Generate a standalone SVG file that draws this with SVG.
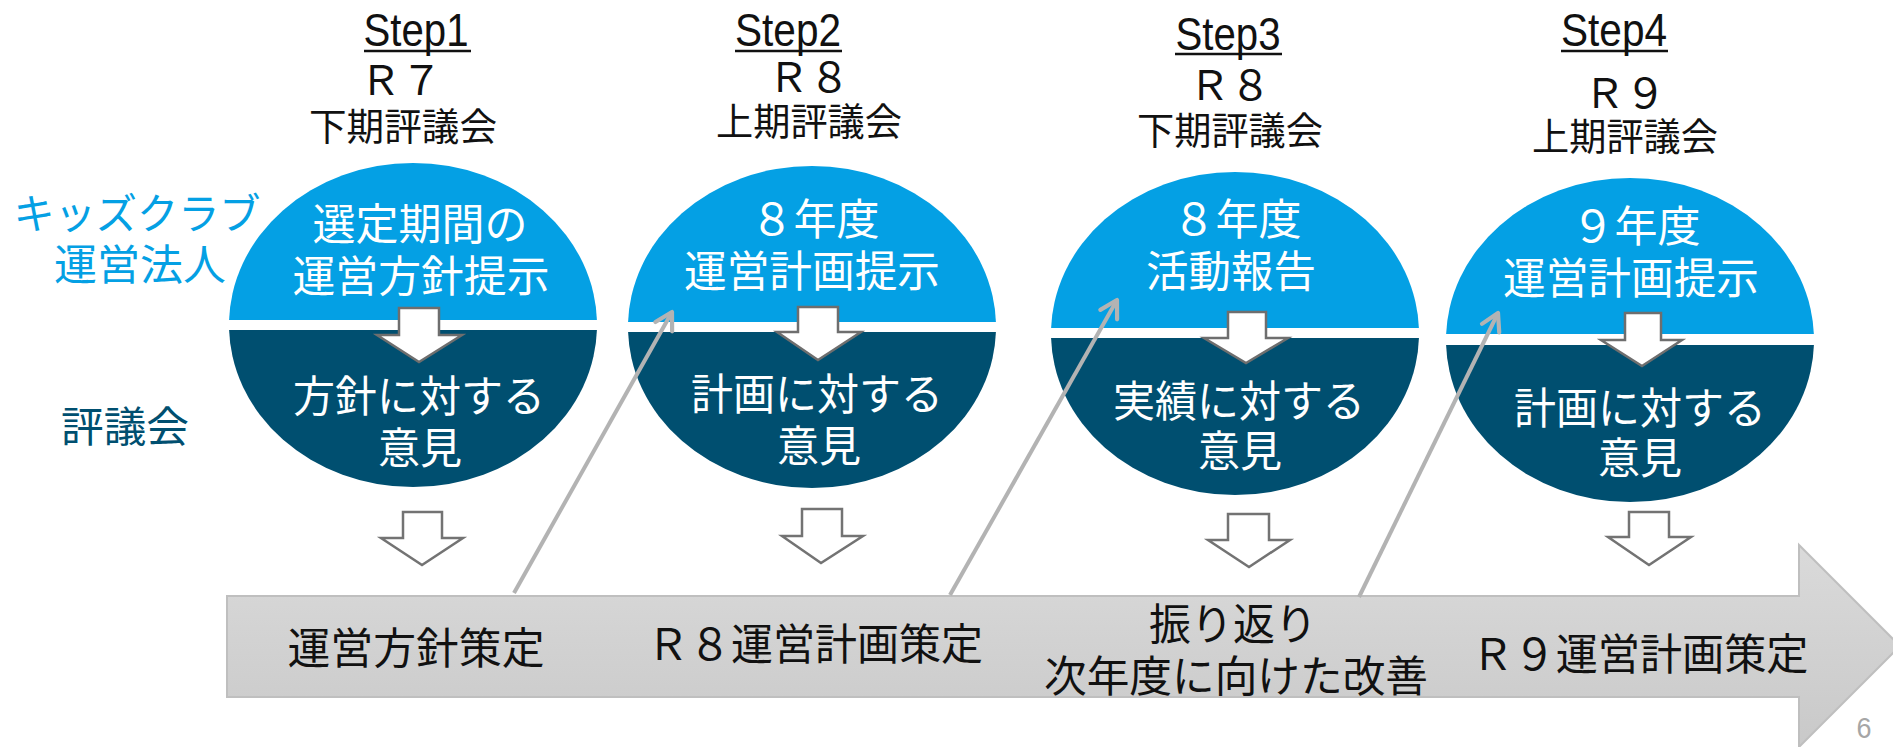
<svg xmlns="http://www.w3.org/2000/svg" width="1893" height="747" viewBox="0 0 1893 747">
<style>
.jp{font-family:'Noto Sans CJK JP','Noto Sans CJK SC',sans-serif;}
.hd{font-size:38px;fill:#111;text-anchor:middle;}
.rr{font-size:41px;fill:#111;text-anchor:middle;}
.step{font-family:'Liberation Sans',Arial,sans-serif;font-size:46px;fill:#111;text-anchor:middle;}
.ul{stroke:#111;stroke-width:2.5;}
.wt{font-size:43px;fill:#fff;text-anchor:middle;}
.bt{font-size:43px;fill:#111;text-anchor:middle;}
.lb{fill:#04A0E4;}
.dk{fill:#004F70;}
.ia{fill:#fff;stroke:#6e6e6e;stroke-width:2.5;stroke-linejoin:miter;}
.oa{fill:#fff;stroke:#737373;stroke-width:2.5;}
.con{stroke:#b3b3b3;stroke-width:4;fill:none;marker-end:url(#chev);}
</style>
<defs>
<marker id="chev" viewBox="0 0 20 20" refX="17" refY="10" markerWidth="24" markerHeight="24" markerUnits="userSpaceOnUse" orient="auto">
<path d="M3,2 L17,10 L3,18" fill="none" stroke="#b3b3b3" stroke-width="3.5" stroke-linecap="round" stroke-linejoin="round"/>
</marker>
<linearGradient id="barg" x1="0" y1="0" x2="0" y2="1">
<stop offset="0" stop-color="#dadada"/>
<stop offset="1" stop-color="#c9c9c9"/>
</linearGradient>
<clipPath id="t1"><rect x="0" y="0" width="1893" height="320"/></clipPath>
<clipPath id="b1"><rect x="0" y="330" width="1893" height="417"/></clipPath>
<clipPath id="t2"><rect x="0" y="0" width="1893" height="322"/></clipPath>
<clipPath id="b2"><rect x="0" y="332" width="1893" height="415"/></clipPath>
<clipPath id="t3"><rect x="0" y="0" width="1893" height="328"/></clipPath>
<clipPath id="b3"><rect x="0" y="338" width="1893" height="409"/></clipPath>
<clipPath id="t4"><rect x="0" y="0" width="1893" height="334"/></clipPath>
<clipPath id="b4"><rect x="0" y="345" width="1893" height="402"/></clipPath>
</defs>
<rect width="1893" height="747" fill="#fff"/>

<g id="label-hojin">
<text class="jp" x="137" y="229" font-size="42" fill="#04A0E4" text-anchor="middle" textLength="247" lengthAdjust="spacingAndGlyphs">キッズクラブ</text>
<text class="jp" x="140" y="280" font-size="42" fill="#04A0E4" text-anchor="middle" textLength="172" lengthAdjust="spacingAndGlyphs">運営法人</text>
</g>
<g id="label-hyogikai">
<text class="jp" x="125" y="442" font-size="42" fill="#004F70" text-anchor="middle" textLength="128" lengthAdjust="spacingAndGlyphs">評議会</text>
</g>

<g id="step1">
<text class="step" x="416" y="46" textLength="105" lengthAdjust="spacingAndGlyphs">Step1</text>
<line class="ul" x1="364" y1="51" x2="471" y2="51"/>
<text class="jp rr" x="401" y="95">Ｒ７</text>
<text class="jp hd" x="403" y="140" textLength="188" lengthAdjust="spacingAndGlyphs">下期評議会</text>
</g>
<g id="step2">
<text class="step" x="788" y="46" textLength="106" lengthAdjust="spacingAndGlyphs">Step2</text>
<line class="ul" x1="735" y1="51" x2="842" y2="51"/>
<text class="jp rr" x="809" y="92">Ｒ８</text>
<text class="jp hd" x="809" y="135" textLength="186" lengthAdjust="spacingAndGlyphs">上期評議会</text>
</g>
<g id="step3">
<text class="step" x="1228" y="50" textLength="105" lengthAdjust="spacingAndGlyphs">Step3</text>
<line class="ul" x1="1175" y1="54" x2="1282" y2="54"/>
<text class="jp rr" x="1230" y="100">Ｒ８</text>
<text class="jp hd" x="1230" y="144" textLength="186" lengthAdjust="spacingAndGlyphs">下期評議会</text>
</g>
<g id="step4">
<text class="step" x="1614" y="46" textLength="106" lengthAdjust="spacingAndGlyphs">Step4</text>
<line class="ul" x1="1561" y1="51" x2="1668" y2="51"/>
<text class="jp rr" x="1625" y="108">Ｒ９</text>
<text class="jp hd" x="1625" y="150" textLength="186" lengthAdjust="spacingAndGlyphs">上期評議会</text>
</g>

<g id="circle1">
<ellipse class="lb" cx="413" cy="325" rx="184" ry="162" clip-path="url(#t1)"/>
<ellipse class="dk" cx="413" cy="325" rx="184" ry="162" clip-path="url(#b1)"/>
<text class="jp wt" x="420" y="240" textLength="215" lengthAdjust="spacingAndGlyphs">選定期間の</text>
<text class="jp wt" x="421" y="292" textLength="257" lengthAdjust="spacingAndGlyphs">運営方針提示</text>
<polygon class="ia" points="399,308 439,308 439,335 462,335 419,362 377,335 399,335"/>
<text class="jp wt" x="419" y="412" textLength="252" lengthAdjust="spacingAndGlyphs">方針に対する</text>
<text class="jp wt" x="420" y="464" textLength="84" lengthAdjust="spacingAndGlyphs">意見</text>
</g>
<g id="circle2">
<ellipse class="lb" cx="812" cy="327" rx="184" ry="161" clip-path="url(#t2)"/>
<ellipse class="dk" cx="812" cy="327" rx="184" ry="161" clip-path="url(#b2)"/>
<text class="jp wt" x="815" y="235">８年度</text>
<text class="jp wt" x="812" y="287" textLength="256" lengthAdjust="spacingAndGlyphs">運営計画提示</text>
<polygon class="ia" points="798,307 838,307 838,332 861,332 818,360 777,332 798,332"/>
<text class="jp wt" x="817" y="410" textLength="252" lengthAdjust="spacingAndGlyphs">計画に対する</text>
<text class="jp wt" x="819" y="462" textLength="84" lengthAdjust="spacingAndGlyphs">意見</text>
</g>
<g id="circle3">
<ellipse class="lb" cx="1235" cy="333.5" rx="184" ry="161.5" clip-path="url(#t3)"/>
<ellipse class="dk" cx="1235" cy="333.5" rx="184" ry="161.5" clip-path="url(#b3)"/>
<text class="jp wt" x="1237" y="235">８年度</text>
<text class="jp wt" x="1231" y="287" textLength="170" lengthAdjust="spacingAndGlyphs">活動報告</text>
<polygon class="ia" points="1228,312 1266,312 1266,338 1288,338 1246,363 1204,338 1228,338"/>
<text class="jp wt" x="1239" y="417" textLength="252" lengthAdjust="spacingAndGlyphs">実績に対する</text>
<text class="jp wt" x="1240" y="467" textLength="84" lengthAdjust="spacingAndGlyphs">意見</text>
</g>
<g id="circle4">
<ellipse class="lb" cx="1630" cy="340" rx="184" ry="162" clip-path="url(#t4)"/>
<ellipse class="dk" cx="1630" cy="340" rx="184" ry="162" clip-path="url(#b4)"/>
<text class="jp wt" x="1636" y="242">９年度</text>
<text class="jp wt" x="1631" y="294" textLength="256" lengthAdjust="spacingAndGlyphs">運営計画提示</text>
<polygon class="ia" points="1625,313 1661,313 1661,340 1682,340 1642,366 1601,340 1625,340"/>
<text class="jp wt" x="1640" y="424" textLength="252" lengthAdjust="spacingAndGlyphs">計画に対する</text>
<text class="jp wt" x="1640" y="474" textLength="84" lengthAdjust="spacingAndGlyphs">意見</text>
</g>

<g id="down-arrows">
<polygon class="oa" points="403,512 442,512 442,538 463,538 422,565 381,538 403,538"/>
<polygon class="oa" points="802,509 842,509 842,536 863,536 821,563 782,536 802,536"/>
<polygon class="oa" points="1228,514 1269,514 1269,540 1290,540 1249,567 1208,540 1228,540"/>
<polygon class="oa" points="1629,512 1669,512 1669,537 1691,537 1649,565 1608,537 1629,537"/>
</g>

<g id="timeline">
<polygon points="227,596 1799,596 1799,545 1900,646 1799,747 1799,697 227,697" fill="url(#barg)" stroke="#bfbfbf" stroke-width="2"/>
<text class="jp bt" x="416" y="664" textLength="257" lengthAdjust="spacingAndGlyphs">運営方針策定</text>
<text class="jp bt" x="815" y="660" textLength="336" lengthAdjust="spacingAndGlyphs">Ｒ８運営計画策定</text>
<text class="jp bt" x="1233" y="640" textLength="168" lengthAdjust="spacingAndGlyphs">振り返り</text>
<text class="jp bt" x="1236" y="692" textLength="384" lengthAdjust="spacingAndGlyphs">次年度に向けた改善</text>
<text class="jp bt" x="1640" y="670" textLength="337" lengthAdjust="spacingAndGlyphs">Ｒ９運営計画策定</text>
</g>

<g id="connectors">
<line class="con" x1="514" y1="593" x2="672" y2="312"/>
<line class="con" x1="950" y1="595" x2="1117" y2="300"/>
<line class="con" x1="1359" y1="597" x2="1498" y2="313"/>
</g>

<text x="1864" y="738" font-family="'Liberation Sans',Arial,sans-serif" font-size="29" fill="#a6a6a6" text-anchor="middle" textLength="15" lengthAdjust="spacingAndGlyphs">6</text>
</svg>
